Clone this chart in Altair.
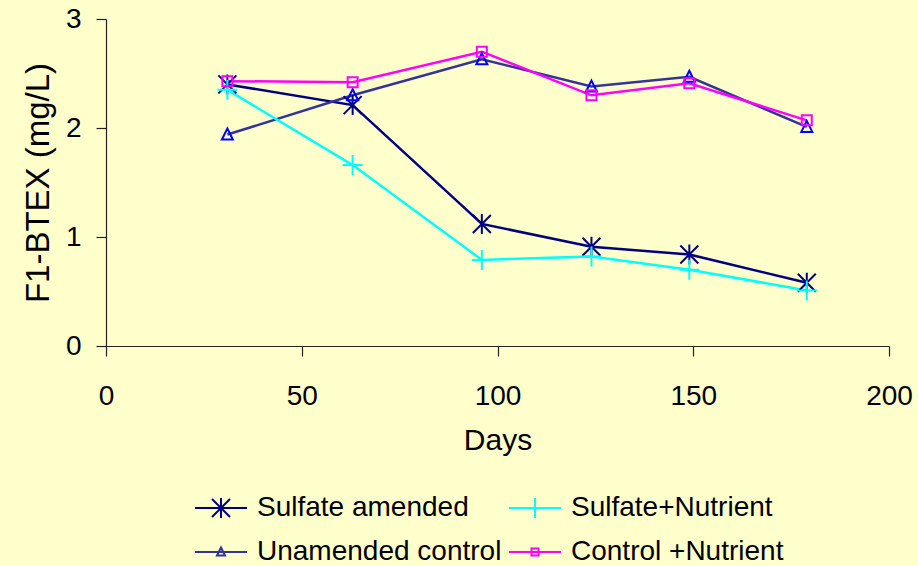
import altair as alt
import pandas as pd

# ---- data ----
days = [31, 63, 96, 124, 149, 179]
series_names = ["Sulfate amended", "Unamended control", "Sulfate+Nutrient", "Control +Nutrient"]
sulfate_amended = [2.40, 2.21, 1.12, 0.91, 0.84, 0.58]
unamended_control = [1.94, 2.30, 2.63, 2.38, 2.47, 2.01]
sulfate_nutrient = [2.35, 1.66, 0.79, 0.82, 0.70, 0.51]
control_nutrient = [2.43, 2.42, 2.70, 2.30, 2.41, 2.07]
x_ticks = [0, 50, 100, 150, 200]
y_ticks = [0, 1, 2, 3]

# ---- styles ----
line_colors = ["#000080", "#333399", "#00FFFF", "#FF00FF"]
marker_colors = ["#000080", "#0000FF", "#00FFFF", "#FF00FF"]
marker_paths = [
    "M-0.9,-0.9L0.9,0.9M-0.9,0.9L0.9,-0.9M0,-1L0,1",
    "M0,-0.6L0.55,0.5L-0.55,0.5Z",
    "M-1,0L1,0M0,-1L0,1",
    "M-0.5,-0.5L0.5,-0.5L0.5,0.5L-0.5,0.5Z",
]
legend_paths = [
    "M-2.6,0L2.6,0M-0.9,-0.9L0.9,0.9M-0.9,0.9L0.9,-0.9M0,-1L0,1",
    "M-2.6,0L2.6,0M0,-0.45L0.4,0.35L-0.4,0.35Z",
    "M-2.6,0L2.6,0M0,-1L0,1",
    "M-2.6,0L2.6,0M-0.35,-0.35L0.35,-0.35L0.35,0.35L-0.35,0.35Z",
]
FONT = "Liberation Sans"

rows = []
for name, vals in zip(series_names, [sulfate_amended, unamended_control, sulfate_nutrient, control_nutrient]):
    for d, v in zip(days, vals):
        rows.append({"Days": d, "value": v, "series": name})
df = pd.DataFrame(rows)

x = alt.X("Days:Q", scale=alt.Scale(domain=[0, 200], nice=False),
          axis=alt.Axis(values=x_ticks, title="Days", labelPadding=26, titlePadding=15,
                        titleFontSize=30, labelFlush=False))
y = alt.Y("value:Q", scale=alt.Scale(domain=[0, 3], nice=False),
          axis=alt.Axis(values=y_ticks, title="F1-BTEX (mg/L)", labelPadding=15, titlePadding=10,
                        titleFontSize=33, labelFlush=False))

legend = alt.Legend(title=None, orient="none", legendX=101, legendY=475, columns=2,
                    columnPadding=3, rowPadding=16, labelOffset=22, labelFontSize=28,
                    labelFont=FONT, labelColor="black", labelLimit=500, symbolSize=400,
                    symbolStrokeWidth=2, symbolOpacity=1, symbolFillColor="transparent",
                    padding=0)

base = alt.Chart(df).encode(x=x, y=y)

lines = base.mark_line(strokeWidth=2.5).encode(
    color=alt.Color("series:N", scale=alt.Scale(domain=series_names, range=line_colors), legend=None)
)
points = base.mark_point(size=400, strokeWidth=2, filled=False, opacity=1).encode(
    color=alt.Color("series:N", scale=alt.Scale(domain=series_names, range=marker_colors), legend=None),
    shape=alt.Shape("series:N", scale=alt.Scale(domain=series_names, range=marker_paths), legend=None),
)
legend_layer = base.mark_point(size=400, strokeWidth=2, filled=False, opacity=0).encode(
    color=alt.Color("series:N", scale=alt.Scale(domain=series_names, range=line_colors), legend=legend),
    shape=alt.Shape("series:N", scale=alt.Scale(domain=series_names, range=legend_paths), legend=legend),
)

chart = (
    alt.layer(lines, points, legend_layer)
    .resolve_scale(color="independent", shape="independent")
    .properties(
        width=783, height=327, background="#FFFFCC",
        padding={"left": 106, "top": 19, "right": 29, "bottom": 220},
        autosize=alt.AutoSizeParams(type="none"),
    )
    .configure_view(stroke=None)
    .configure_axis(
        grid=False, domainColor="#222222", tickColor="#222222", tickSize=10,
        labelFont=FONT, titleFont=FONT, labelFontSize=28, labelColor="black",
        titleColor="black", titleFontWeight="normal", domainWidth=1.2, tickWidth=1.2,
    )
)

chart.save("out.html", embed_options={"renderer": "svg", "actions": False})
